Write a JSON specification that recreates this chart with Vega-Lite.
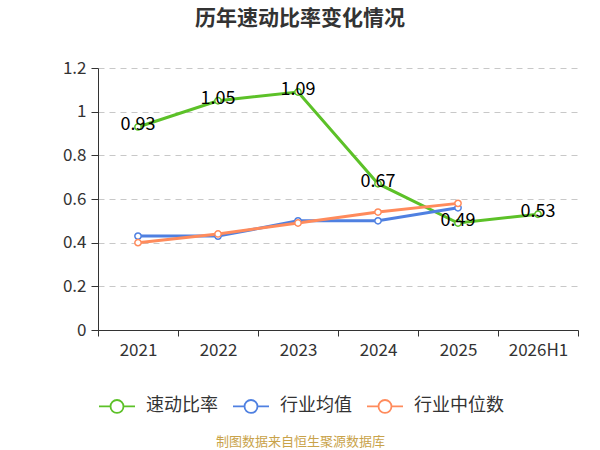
{
  "$schema": "https://vega.github.io/schema/vega-lite/v6.json",
  "autosize": {"type": "none"},
  "width": 480,
  "height": 262,
  "padding": {"left": 98, "top": 68, "right": 22, "bottom": 120},
  "background": "white",
  "config": {
    "font": "Noto Sans CJK SC",
    "view": {"stroke": null}
  },
  "title": {
    "text": "历年速动比率变化情况",
    "fontSize": 21,
    "fontWeight": "bold",
    "color": "#333333",
    "anchor": "middle",
    "dx": -38,
    "offset": 30
  },
  "data": {
    "values": [
      {"year": "2021", "series": "速动比率", "value": 0.93},
      {"year": "2022", "series": "速动比率", "value": 1.05},
      {"year": "2023", "series": "速动比率", "value": 1.09},
      {"year": "2024", "series": "速动比率", "value": 0.67},
      {"year": "2025", "series": "速动比率", "value": 0.49},
      {"year": "2026H1", "series": "速动比率", "value": 0.53},
      {"year": "2021", "series": "行业均值", "value": 0.43},
      {"year": "2022", "series": "行业均值", "value": 0.43},
      {"year": "2023", "series": "行业均值", "value": 0.50},
      {"year": "2024", "series": "行业均值", "value": 0.50},
      {"year": "2025", "series": "行业均值", "value": 0.56},
      {"year": "2021", "series": "行业中位数", "value": 0.40},
      {"year": "2022", "series": "行业中位数", "value": 0.44},
      {"year": "2023", "series": "行业中位数", "value": 0.49},
      {"year": "2024", "series": "行业中位数", "value": 0.54},
      {"year": "2025", "series": "行业中位数", "value": 0.58}
    ]
  },
  "encoding": {
    "x": {
      "field": "year",
      "type": "ordinal",
      "sort": null,
      "scale": {"paddingInner": 0, "paddingOuter": 0},
      "axis": {
        "title": "制图数据来自恒生聚源数据库",
        "titleColor": "#C9A34A",
        "titleFontSize": 13,
        "titleFontWeight": "normal",
        "titleX": 202,
        "titleY": 111,
        "titleBaseline": "middle",
        "labelAngle": 0,
        "labelFontSize": 17,
        "labelColor": "#333333",
        "labelPadding": 6,
        "tickBand": "extent",
        "tickSize": 6,
        "tickColor": "#333333",
        "domainColor": "#333333",
        "grid": false
      }
    },
    "y": {
      "field": "value",
      "type": "quantitative",
      "scale": {"domain": [0, 1.2]},
      "axis": {
        "title": null,
        "values": [0, 0.2, 0.4, 0.6, 0.8, 1, 1.2],
        "format": "~g",
        "labelFontSize": 17,
        "labelColor": "#333333",
        "labelPadding": 5,
        "tickSize": 7,
        "tickColor": "#333333",
        "domainColor": "#333333",
        "gridColor": "#C8C8C8",
        "gridDash": [6, 5]
      }
    },
    "color": {
      "field": "series",
      "type": "nominal",
      "sort": ["速动比率", "行业均值", "行业中位数"],
      "scale": {
        "domain": ["速动比率", "行业均值", "行业中位数"],
        "range": ["#5CC128", "#4F80E1", "#FF8B5C"]
      },
      "legend": {
        "title": null,
        "orient": "none",
        "direction": "horizontal",
        "legendX": 0,
        "legendY": 319,
        "symbolType": "M-1,0L-0.36,0M0.36,0L1,0M-0.36,0A0.36,0.36 0 1,1 0.36,0A0.36,0.36 0 1,1 -0.36,0",
        "symbolSize": 1296,
        "symbolStrokeWidth": 1.8,
        "symbolFillColor": "white",
        "labelFontSize": 18,
        "labelColor": "#333333",
        "columnPadding": 11,
        "labelOffset": 10
      }
    }
  },
  "layer": [
    {
      "mark": {"type": "line", "strokeWidth": 3},
      "encoding": {}
    },
    {
      "mark": {"type": "point", "shape": "circle", "filled": false, "fill": "white", "size": 40, "strokeWidth": 1.5, "opacity": 1}
    },
    {
      "transform": [{"filter": "datum.series == '速动比率'"}],
      "mark": {"type": "text", "fontSize": 18, "dy": -2},
      "encoding": {
        "text": {"field": "value", "type": "quantitative", "format": ".2f"},
        "color": {"value": "black"}
      }
    }
  ]
}
